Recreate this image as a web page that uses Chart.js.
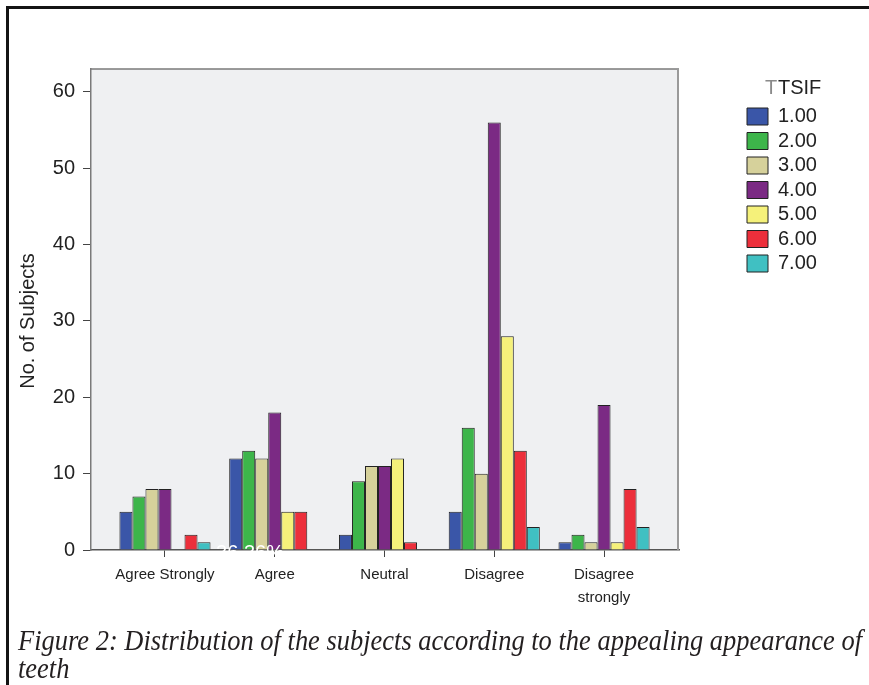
<!DOCTYPE html>
<html>
<head>
<meta charset="utf-8">
<script src="https://cdn.jsdelivr.net/npm/chart.js@4"></script>
<style>
  html, body { margin: 0; padding: 0; background: #ffffff; }
  #wrap { position: relative; width: 869px; height: 685px; overflow: hidden; background: #fff; }
  #c { position: absolute; left: 0; top: 0; }
  #frame { position: absolute; left: 6px; top: 6px; width: 900px; height: 700px;
           border-left: 3px solid #141414; border-top: 3px solid #141414; pointer-events: none; }
  #cap { position: absolute; left: 18px; top: 626px; font-family: 'Liberation Serif', 'Times New Roman', serif;
         font-style: italic; font-size: 29px; line-height: 28px; color: #231f20; white-space: nowrap; }
  #cap span { display: inline-block; transform-origin: 0 0; }
</style>
</head>
<body>
<div id="wrap">
  <canvas id="c" width="869" height="685"></canvas>
  <div id="frame"></div>
  <div id="cap"><span id="l1">Figure 2: Distribution of the subjects according to the appealing appearance of</span><br><span id="l2">teeth</span></div>
</div>
<script>
// ---- data ----
const categories = ['Agree Strongly', 'Agree', 'Neutral', 'Disagree', ['Disagree', 'strongly']];
const seriesNames = ['1.00', '2.00', '3.00', '4.00', '5.00', '6.00', '7.00'];
const tsif1 = [5, 12, 2, 5, 1];
const tsif2 = [7, 13, 9, 16, 2];
const tsif3 = [8, 12, 11, 10, 1];
const tsif4 = [8, 18, 11, 56, 19];
const tsif5 = [0, 5, 12, 28, 1];
const tsif6 = [2, 5, 1, 13, 8];
const tsif7 = [1, 0, 0, 3, 3];
const yTicks = [0, 10, 20, 30, 40, 50, 60];
const colors = ['#3a56a8', '#3db54a', '#d6d19b', '#7b2a84', '#f5f17a', '#ec2f3b', '#40c0c2'];

const seriesValues = [tsif1, tsif2, tsif3, tsif4, tsif5, tsif6, tsif7];
const FONT = "'Liberation Sans', Arial, sans-serif";

// legend geometry
const legendFont = 20, legendBoxW = 21, legendBoxH = 17, legendPad = 4.5;
const mctx = document.createElement('canvas').getContext('2d');
mctx.font = legendFont + 'px ' + FONT;
let maxW = 0;
seriesNames.forEach(s => { maxW = Math.max(maxW, mctx.measureText(s).width); });
const legendWidth = legendPad + legendBoxW + legendFont / 2 + maxW + 10;
const plotRight = 679, legendItemLeft = 747;
const spacerW = legendItemLeft - legendPad - plotRight;
const padRight = 869 - plotRight - spacerW - legendWidth;

const datasets = seriesNames.map((name, k) => ({
  label: name,
  data: categories.map((c, i) => ({ x: i, y: seriesValues[k][i] })),
  backgroundColor: colors[k],
  borderColor: '#222222',
  borderWidth: 1,
  categoryPercentage: 0.83,
  barPercentage: 1.0
}));

const framePlugin = {
  id: 'frame',
  beforeDraw(chart) {
    const { ctx, chartArea: a } = chart;
    ctx.save();
    ctx.fillStyle = '#eff0f2';
    ctx.fillRect(a.left, a.top, a.right - a.left, a.bottom - a.top);
    ctx.restore();
  },
  afterDatasetsDraw(chart) {
    const { ctx, chartArea: a } = chart;
    ctx.save();
    ctx.strokeStyle = '#7a7a7a';
    ctx.lineWidth = 1.5;
    ctx.beginPath();
    ctx.moveTo(a.left, a.top);
    ctx.lineTo(a.right, a.top);
    ctx.stroke();
    ctx.strokeStyle = '#9a9a9a';
    ctx.lineWidth = 2;
    ctx.beginPath();
    ctx.moveTo(a.right - 1, a.top);
    ctx.lineTo(a.right - 1, a.bottom);
    ctx.stroke();
    ctx.restore();
  },
  afterDraw(chart) {
    const { ctx } = chart;
    ctx.save();
    ctx.translate(28, 321);
    ctx.rotate(-Math.PI / 2);
    ctx.font = '20px ' + FONT;
    ctx.fillStyle = '#222';
    ctx.textAlign = 'center';
    ctx.textBaseline = 'middle';
    ctx.fillText('No. of Subjects', 0, 0);
    ctx.restore();

    const lg = chart.legend;
    if (lg && lg.legendHitBoxes && lg.legendHitBoxes.length) {
      const hb = lg.legendHitBoxes[0];
      const tx = hb.left + legendBoxW + legendFont / 2;
      const ty = lg.top + 9 + legendFont / 2;
      ctx.save();
      ctx.font = legendFont + 'px ' + FONT;
      ctx.textBaseline = 'middle';
      ctx.textAlign = 'left';
      ctx.fillStyle = '#8a8a8a';
      ctx.fillText('T', tx - 13, ty);
      ctx.fillStyle = '#222';
      ctx.fillText('TSIF', tx, ty);
      ctx.restore();
    }

    ctx.save();
    ctx.font = '20px ' + FONT;
    ctx.fillStyle = '#ffffff';
    ctx.textAlign = 'center';
    ctx.textBaseline = 'middle';
    ctx.fillText('36.36%', 250, 553);
    ctx.restore();
  }
};

new Chart(document.getElementById('c'), {
  type: 'bar',
  data: { datasets },
  options: {
    responsive: false,
    animation: false,
    devicePixelRatio: 1,
    layout: { padding: { top: 69, left: 0, right: padRight, bottom: 75 } },
    plugins: {
      tooltip: { enabled: false },
      legend: {
        position: 'right',
        align: 'start',
        title: { display: true, text: 'TTSIF', color: 'rgba(0,0,0,0)', padding: { top: 9, bottom: 0 },
                 font: { family: FONT, size: legendFont } },
        labels: {
          boxWidth: legendBoxW, boxHeight: legendBoxH, padding: legendPad,
          color: '#222', font: { family: FONT, size: legendFont }
        }
      }
    },
    scales: {
      x: {
        type: 'linear',
        offset: false,
        min: -0.674,
        max: 4.683,
        afterBuildTicks: (s) => { s.ticks = categories.map((c, i) => ({ value: i })); },
        afterFit: (s) => { s.height = 60; },
        ticks: {
          autoSkip: false, maxRotation: 0, padding: 7,
          color: '#222', font: { family: FONT, size: 15, lineHeight: 1.5 },
          callback: (v) => categories[v]
        },
        grid: { offset: false, drawOnChartArea: false, drawTicks: true, tickLength: 7, color: '#444' },
        border: { display: true, color: '#555', width: 1.5 }
      },
      y: {
        min: 0,
        max: 63,
        afterBuildTicks: (s) => { s.ticks = yTicks.map(v => ({ value: v })); },
        afterFit: (s) => { s.width = 91; },
        ticks: { color: '#222', padding: 8, font: { family: FONT, size: 20 } },
        grid: { drawOnChartArea: false, drawTicks: true, tickLength: 8, color: '#444' },
        border: { display: true, color: '#7a7a7a', width: 1.5 }
      },
      spacer: {
        type: 'linear',
        position: 'right',
        display: true,
        ticks: { display: false },
        grid: { display: false },
        border: { display: false },
        afterFit: (s) => { s.width = spacerW; }
      }
    }
  },
  plugins: [framePlugin]
});

const l1 = document.getElementById('l1');
const l2 = document.getElementById('l2');
const w = l1.getBoundingClientRect().width;
const sc = 844 / w;
l1.style.transform = 'scaleX(' + sc + ')';
l2.style.transform = 'scaleX(' + sc + ')';
</script>
</body>
</html>
